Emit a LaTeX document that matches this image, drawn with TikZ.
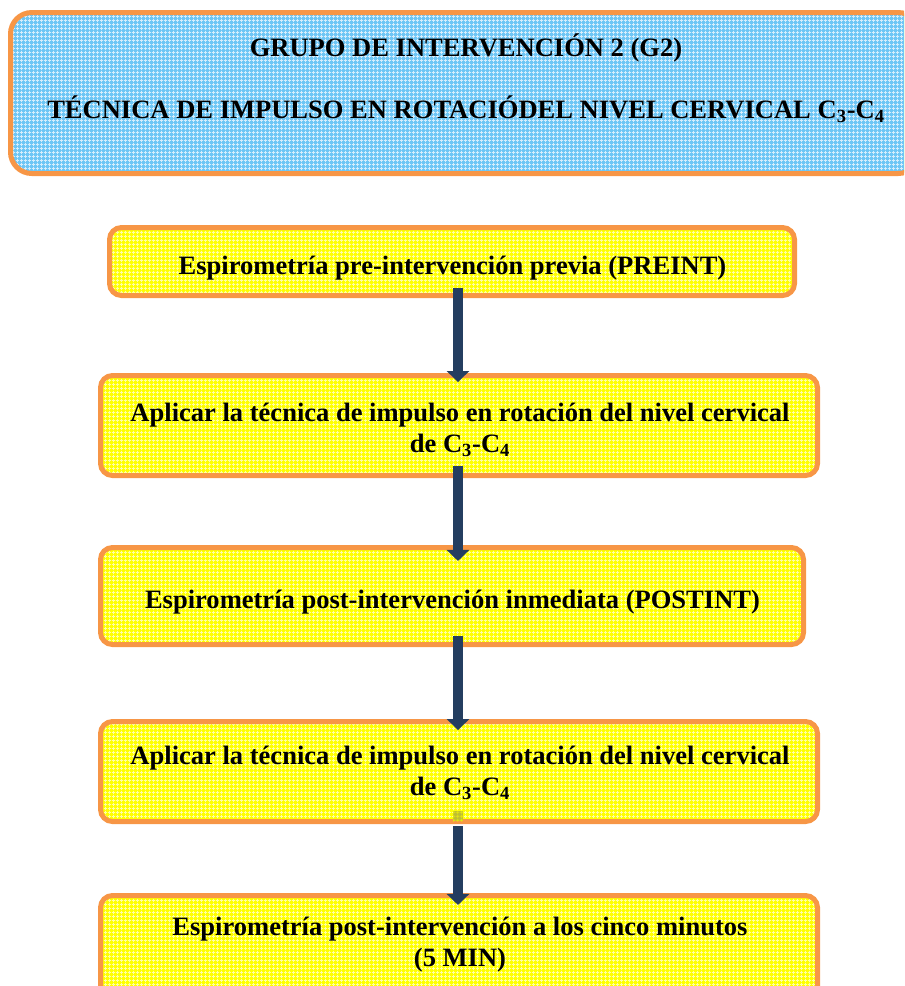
\documentclass[tikz,border=0pt]{standalone}
\usepackage{fontspec}
\setmainfont{Liberation Serif}
\usetikzlibrary{arrows.meta,fit,patterns.meta}

% fine woven mesh laid over the box fills
\tikzdeclarepattern{
  name=meshgrid,
  type=uncolored,
  bounding box={(0pt,0pt) and (3pt,3pt)},
  tile size={(3pt,3pt)},
  code={
    \draw[line width=0.7pt] (0pt,1.5pt) -- (3pt,1.5pt) (1.5pt,0pt) -- (1.5pt,3pt);
  }
}

\definecolor{boxedge}{RGB}{247,150,70}
\definecolor{stagefill}{RGB}{255,255,0}
\definecolor{stagegrid}{RGB}{255,255,165}
\definecolor{headfill}{RGB}{110,198,245}
\definecolor{headgrid}{RGB}{215,238,252}
\definecolor{flowblue}{RGB}{36,62,96}
\definecolor{handlefill}{RGB}{190,190,50}

\tikzset{
  stage/.style={draw=boxedge, line width=3.75pt, rounded corners=9pt,
    inner sep=0pt, outer sep=0pt,
    preaction={fill=stagefill}, pattern=meshgrid, pattern color=stagegrid},
  header/.style={stage, rounded corners=16pt,
    preaction={fill=headfill}, pattern color=headgrid},
  % base anchor sits on the baseline of the last line
  caption/.style={anchor=base, inner sep=0pt, align=center,
    font=\fontsize{19.9}{23.25}\selectfont\bfseries},
  flow/.style={draw=flowblue, line width=7.5pt,
    -{Triangle[width=16.5pt,length=8.25pt]}},
}

\begin{document}
\begin{tikzpicture}[x=0.75pt,y=-0.75pt]
  \useasboundingbox (0,0) rectangle (904,986);
  \clip (0,0) rectangle (904,986);

  % title panel
  \node[header, fit={(10.5,12.5) (919.5,173.5)}] (head) {};
  \node[caption] (headA) at (466,56) {GRUPO DE INTERVENCIÓN 2 (G2)};
  \node[caption] (headB) at (466,118.5)
    {TÉCNICA DE IMPULSO EN ROTACIÓDEL NIVEL CERVICAL C\textsubscript{3}-C\textsubscript{4}};

  % protocol steps
  \node[stage, fit={(109.5,227.5) (794.5,295.5)}] (s1) {};
  \node[stage, fit={(100.5,375.5) (817.5,475.5)}] (s2) {};
  \node[stage, fit={(100.5,547.5) (803.5,644.5)}] (s3) {};
  \node[stage, fit={(100.5,721.5) (817.5,821.5)}] (s4) {};
  \node[stage, fit={(100.5,895.5) (817.5,1002)}] (s5) {};

  \node[caption] (c1) at (452.5,274) {Espirometría pre-intervención previa (PREINT)};
  \node[caption] (c2) at (460,452)
    {Aplicar la técnica de impulso en rotación del nivel cervical\\de C\textsubscript{3}-C\textsubscript{4}};
  \node[caption] (c3) at (452.5,608) {Espirometría post-intervención inmediata (POSTINT)};
  \node[caption] (c4) at (460,795)
    {Aplicar la técnica de impulso en rotación del nivel cervical\\de C\textsubscript{3}-C\textsubscript{4}};
  \node[caption] (c5) at (460,966)
    {Espirometría post-intervención a los cinco minutos\\(5 MIN)};

  % small handle on the fourth step
  \node[pattern=meshgrid, pattern color=stagefill!60!handlefill,
        preaction={fill=handlefill}, minimum size=7.5pt, inner sep=0pt] (grip) at (458,816) {};

  % arrows between steps
  \coordinate (axis) at (458,0);
  \draw[flow] ([yshift=5.6pt]s1.south -| axis) -- ([yshift=-4.9pt]s2.north -| axis);
  \draw[flow] ([yshift=7.1pt]s2.south -| axis) -- ([yshift=-10.1pt]s3.north -| axis);
  \draw[flow] ([yshift=6.4pt]s3.south -| axis) -- ([yshift=-6.4pt]s4.north -| axis);
  \draw[flow] ([yshift=-3.4pt]s4.south -| axis) -- ([yshift=-7.1pt]s5.north -| axis);
\end{tikzpicture}
\end{document}
